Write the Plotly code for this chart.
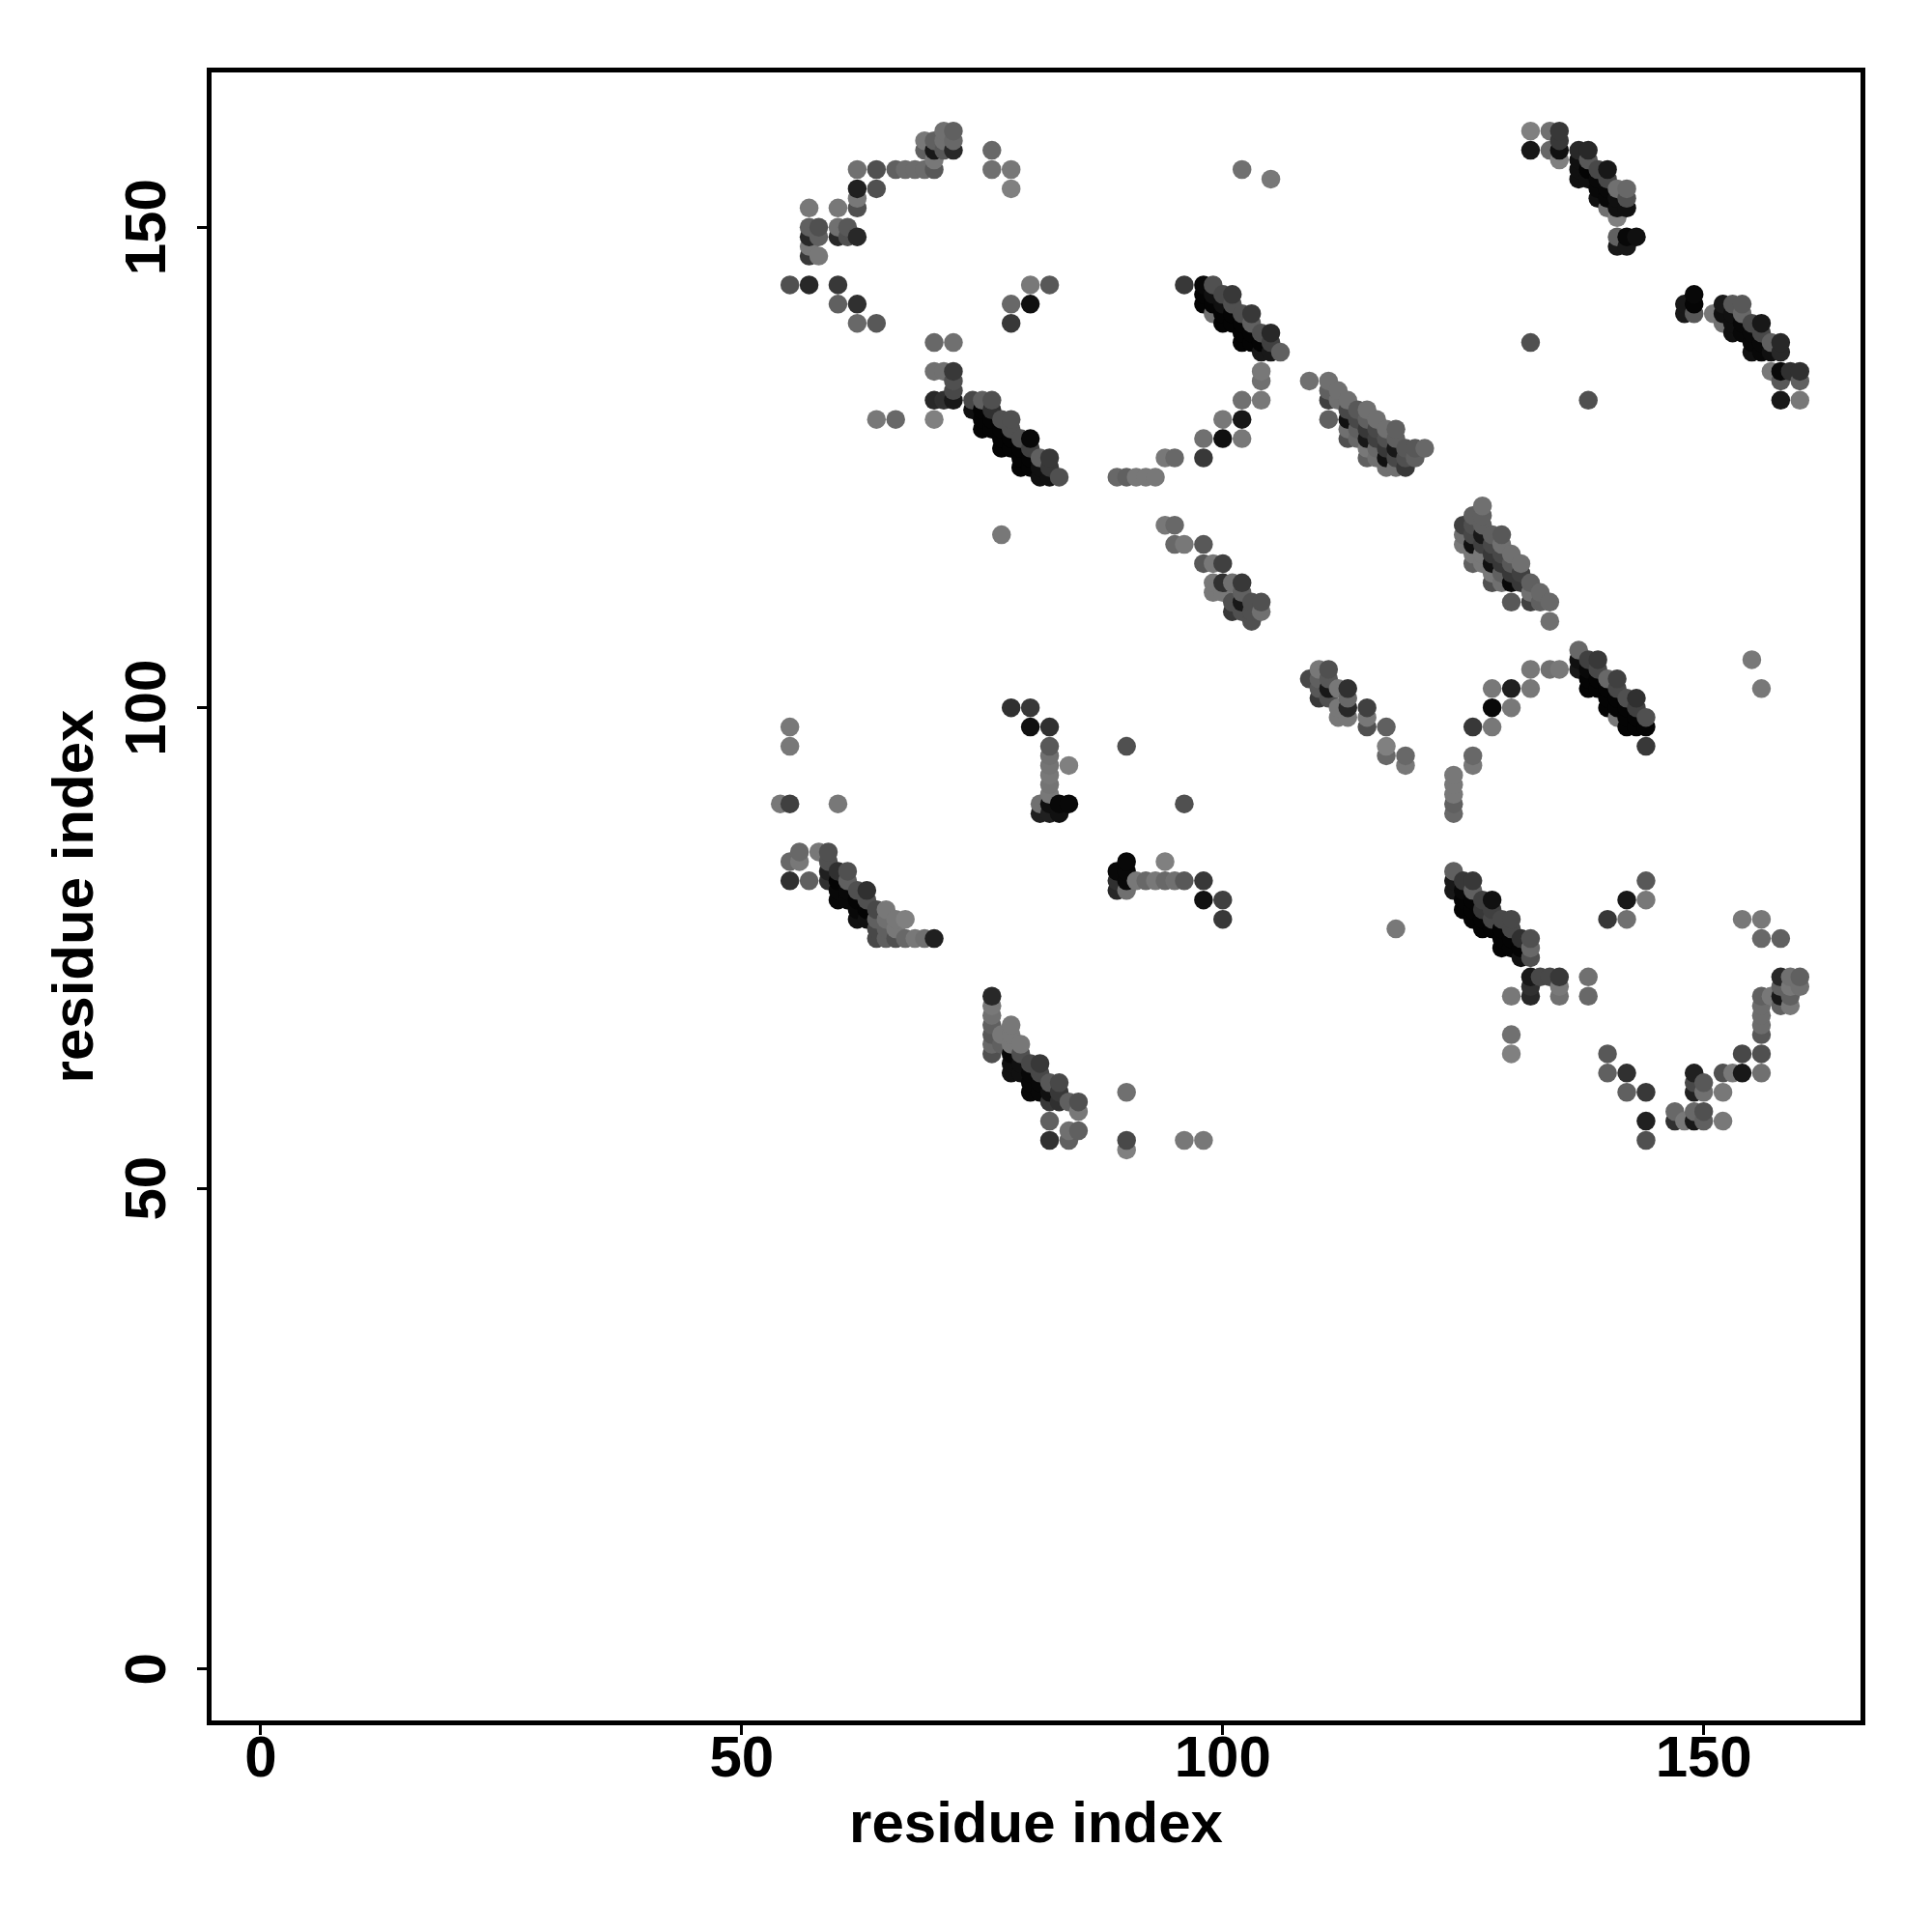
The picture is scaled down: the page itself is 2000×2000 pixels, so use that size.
import plotly.graph_objects as go

# (residue x, residue y, grey level 0-255)
arc_top_left = [
(55,144,80),(57,144,40),(60,144,56),(60,142,96),(62,142,48),(62,140,104),(64,140,88),
(57,152,120),(60,152,120),(62,154,32),(64,154,80),(62,156,112),(64,156,80),(62,153,120),(62,152,80),
(57,150,96),(58,150,80),(57,149,40),(58,149,96),(57,148,120),(57,147,56),(58,147,120),
(60,150,112),(61,150,88),(60,149,40),(61,149,80),(62,149,40),
(66,156,96),(67,156,108),(68,156,108),(69,156,108),(70,156,88),(70,157,120),
(72,160,96),(71,160,112),(72,159,104),(71,159,112),(69,159,120),(70,159,96),
(72,158,40),(69,158,96),(70,158,24),(71,158,88),
(76,158,104),(76,156,112),(78,156,120),(78,154,128),
(80,144,120),(82,144,88),(78,142,104),(80,142,16),(78,140,56),
(70,138,104),(72,138,112),(70,135,112),(71,135,112),(72,135,56),(72,134,80),(72,133,72),
(70,132,40),(71,132,48),(72,132,24),(64,130,120),(66,130,104),(70,130,128),
(77,118,120),
]
diag_b = [
(74,132,72),(75,132,96),(76,132,80),(74,131,16),(75,131,4),(76,131,48),
(75,130,4),(76,130,4),(77,130,80),(78,130,80),(75,129,4),(76,129,4),(77,129,4),(78,129,80),
(77,128,4),(78,128,4),(79,128,80),(80,128,8),(77,127,4),(78,127,4),(79,127,4),(80,127,64),
(79,126,4),(80,126,4),(81,126,96),(82,126,56),(79,125,4),(80,125,4),(81,125,16),(82,125,56),
(81,124,16),(82,124,16),(83,124,80),
]
diag_c = [
(96,144,56),(98,144,8),(99,144,80),(98,143,4),(99,143,16),(100,143,72),(101,143,56),
(98,142,4),(99,142,4),(100,142,16),(101,142,80),(99,141,112),(100,141,4),(101,141,4),(102,141,80),(103,141,56),
(100,140,4),(101,140,4),(102,140,4),(103,140,96),(102,139,4),(103,139,4),(104,139,80),(105,139,40),
(102,138,4),(103,138,4),(104,138,4),(105,138,64),(104,137,24),(105,137,24),(106,137,96),
(104,135,120),(104,134,112),(104,132,120),(102,132,112),(100,130,120),(102,130,24),
(98,128,112),(100,128,16),(102,128,120),(98,126,56),(94,126,120),(95,126,104),
(89,124,104),(90,124,96),(91,124,120),(92,124,120),(93,124,120),
(102,156,112),(105,155,120),
]
diag_d = [
(109,134,112),(111,134,112),(111,133,96),(112,133,112),(111,132,64),(112,132,112),(113,132,112),(111,130,96),
(113,131,72),(114,131,88),(115,131,112),(113,130,16),(114,130,72),(115,130,96),(116,130,112),
(113,129,112),(114,129,96),(115,129,56),(116,129,72),(117,129,112),(118,129,96),
(113,128,80),(114,128,104),(115,128,24),(116,128,64),(117,128,80),(118,128,96),
(115,127,120),(116,127,104),(117,127,56),(118,127,24),(119,127,88),(120,127,88),(121,127,104),
(115,126,96),(116,126,112),(117,126,16),(118,126,72),(119,126,80),(120,126,96),
(117,125,112),(118,125,112),(119,125,56),
]
diag_e = [
(127,121,112),(126,120,96),(127,120,96),(125,119,64),(126,119,80),(127,119,96),
(125,118,112),(126,118,72),(127,118,24),(128,118,96),(129,118,88),
(125,117,120),(126,117,16),(127,117,64),(128,117,72),(129,117,112),
(126,116,120),(127,116,120),(128,116,56),(129,116,72),(130,116,112),
(126,115,96),(127,115,120),(128,115,16),(129,115,56),(130,115,88),(131,115,112),
(128,114,120),(129,114,96),(130,114,56),(131,114,64),
(128,113,80),(129,113,112),(130,113,8),(131,113,56),(132,113,96),
(132,112,112),(133,112,104),(130,111,88),(132,111,64),(133,111,96),(134,111,104),(134,109,112),
]
diag_f = [
(94,119,120),(95,119,104),(95,117,104),(96,117,120),(98,117,88),
(98,115,88),(99,115,120),(100,115,64),(99,113,120),(100,113,48),(101,113,112),(102,113,56),
(99,112,120),(100,112,120),(102,112,96),(101,111,80),(102,111,24),(103,111,80),(104,111,80),
(101,110,56),(102,110,80),(103,110,80),(104,110,112),(103,109,80),
]
diag_g = [
(132,160,128),(134,160,112),(135,160,56),(135,159,56),(135,158,16),(132,158,24),(134,158,104),(135,157,128),
(137,158,40),(138,158,40),(137,157,16),(138,157,88),(137,156,16),(138,156,4),(139,156,72),(140,156,24),
(137,155,16),(138,155,16),(139,155,8),(140,155,72),(139,154,8),(140,154,8),(141,154,112),(142,154,104),
(139,153,16),(140,153,8),(141,153,16),(142,153,80),(140,152,112),(141,152,16),(142,152,16),(141,151,128),
(141,149,96),(142,149,8),(143,149,16),(141,148,24),(142,148,24),
]
diag_h = [
(138,132,80),(149,143,8),(148,142,24),(149,142,5),(148,141,24),(149,141,88),(151,141,120),
(152,142,24),(153,142,88),(154,142,88),(152,141,16),(153,141,16),(154,141,104),
(152,140,112),(153,140,16),(154,140,8),(155,140,72),(156,140,24),
(153,139,16),(154,139,8),(155,139,8),(156,139,72),
(155,138,8),(156,138,8),(157,138,96),(158,138,40),(155,137,16),(156,137,8),(157,137,16),(158,137,40),
(157,135,120),(158,135,8),(159,135,48),(160,135,48),(158,134,88),(160,134,96),(158,132,24),(160,132,120),
(132,138,80),
]
diag_i = [
(109,103,72),(110,104,120),(111,104,80),(110,103,96),(111,103,88),
(110,102,88),(111,102,24),(112,102,120),(113,102,48),(110,101,56),(111,101,80),(113,101,104),
(112,100,120),(113,100,40),(115,100,64),(112,99,120),(113,99,120),(115,99,120),
(115,98,80),(117,98,96),(117,96,128),(117,95,104),(119,95,104),(119,94,120),
(126,95,104),(126,94,120),(124,93,120),(124,92,120),(124,91,120),(124,90,96),(124,89,104),
(126,98,56),(128,98,120),(128,100,8),(130,100,120),(128,102,120),(130,102,32),(132,102,120),
(132,104,120),(134,104,112),(135,104,120),(155,105,120),(156,102,120),
]
diag_j = [
(137,106,104),(137,105,16),(137,104,24),(138,105,64),(139,105,56),(138,104,8),(139,104,72),
(138,103,4),(139,103,4),(140,103,104),(141,103,64),(138,102,4),(139,102,4),(140,102,4),(141,102,72),
(140,101,4),(141,101,4),(142,101,80),(143,101,48),(140,100,4),(141,100,4),(142,100,4),(143,100,64),
(141,99,120),(142,99,4),(143,99,4),(144,99,80),(142,98,4),(143,98,4),(144,98,4),(144,96,56),
]
arc_lower_right = [
(144,82,88),(144,80,120),(142,80,24),(140,78,56),(142,78,112),
(154,78,120),(156,78,120),(156,76,104),(158,76,96),(118,77,120),
(132,72,24),(133,72,72),(134,72,72),(135,72,56),(138,72,112),(132,71,48),(135,71,120),
(130,70,120),(132,70,40),(135,70,112),(138,70,104),(130,66,112),(130,64,128),
(140,64,88),(140,62,96),(142,62,48),(142,60,96),(144,60,56),(144,57,32),(144,55,80),
(147,58,104),(147,57,48),(148,57,120),(149,57,24),(150,57,96),(152,57,120),(149,58,104),(150,58,80),
(149,62,32),(149,61,72),(149,60,32),(150,61,88),(150,60,112),(152,60,120),
(152,62,80),(153,62,120),(154,62,24),(156,62,112),(154,64,72),(156,64,80),
(156,66,88),(156,67,108),(156,68,108),(156,69,108),(156,70,96),(157,70,120),
(158,72,40),(158,71,96),(158,70,24),(158,69,96),(159,72,112),(159,71,120),(159,70,96),(159,69,120),
(160,72,96),(160,71,112),
]
diag_k = [
(124,83,96),(124,82,24),(124,81,24),(125,82,56),(126,82,56),(125,81,8),(126,81,96),
(125,80,4),(126,80,4),(127,80,64),(128,80,16),(125,79,4),(126,79,4),(127,79,56),(128,79,64),
(126,78,4),(127,78,4),(128,78,72),(129,78,72),(130,78,72),(127,77,4),(128,77,4),(129,77,4),(130,77,72),
(129,76,4),(130,76,4),(131,76,48),(132,76,80),(129,75,4),(130,75,4),(131,75,4),(132,75,104),
(131,74,16),(132,74,80),
]
diag_l = [
(55,98,120),(55,96,120),(54,90,120),(55,90,64),(60,90,120),
(56,85,104),(58,85,120),(59,85,80),(55,84,104),(56,84,120),(59,84,80),(55,82,48),(57,82,96),
(59,83,32),(60,83,48),(61,83,80),(59,82,48),(60,82,4),(61,82,96),
(60,81,8),(61,81,8),(62,81,80),(63,81,48),(60,80,8),(61,80,8),(62,80,4),(63,80,80),
(62,79,8),(63,79,4),(64,79,72),(65,79,120),(62,78,16),(63,78,16),(64,78,96),(65,78,112),(66,78,120),(67,78,128),
(64,77,72),(65,77,96),(66,77,120),
(64,76,72),(65,76,96),(66,76,80),(67,76,104),(68,76,120),(69,76,112),(70,76,32),
]
cluster_m = [
(78,100,48),(80,100,56),(80,98,16),(82,98,48),(82,96,88),(82,95,112),(82,94,116),(82,93,120),(82,92,116),(82,91,120),
(84,94,128),(81,90,112),(82,90,16),(83,90,8),(84,90,8),(81,89,32),(82,89,32),(83,89,16),(90,96,80),
(96,90,80),(94,84,128),(90,84,8),(90,83,8),(89,83,8),(89,82,48),(89,81,40),(90,82,8),(90,81,112),
(91,82,120),(92,82,104),(93,82,120),(94,82,104),(95,82,112),(96,82,88),(98,82,56),(98,80,16),(100,80,64),(100,78,56),
]
diag_n = [
(76,70,40),(76,69,120),(76,68,112),(76,67,96),(76,66,88),(76,65,104),(76,64,80),
(77,66,120),(77,65,96),(78,67,120),(78,66,120),(78,65,120),(78,64,8),(78,63,16),(78,62,16),
(79,65,120),(79,64,80),(79,63,16),(79,62,16),(80,63,72),(80,62,8),(80,61,8),(80,60,8),
(81,63,56),(81,62,72),(81,61,8),(81,60,8),(82,61,88),(82,60,16),(82,59,56),
(83,61,72),(83,60,56),(83,59,48),(84,59,96),(85,59,80),(85,58,120),
(82,57,96),(82,55,48),(84,56,112),(84,55,96),(85,56,96),
(90,60,112),(90,55,72),(90,54,128),(96,55,120),(98,55,120),
]

tick_values = [0, 50, 100, 150]
axis_label = "residue index"

contacts = sorted(arc_top_left + diag_b + diag_c + diag_d + diag_e + diag_f + diag_g + diag_h
                  + diag_i + diag_j + arc_lower_right + diag_k + diag_l + cluster_m + diag_n,
                  key=lambda p: (p[0], p[1]))

fig = go.Figure(go.Scatter(
    x=[p[0] for p in contacts],
    y=[p[1] for p in contacts],
    mode="markers",
    marker=dict(size=19.5, color=[f"rgb({p[2]},{p[2]},{p[2]})" for p in contacts], line=dict(width=0)),
    hoverinfo="x+y",
))

font = dict(family="Liberation Sans", size=60, color="black", weight="bold")
axis = dict(
    tickvals=tick_values, showgrid=False, zeroline=False, showline=True, mirror=True,
    linecolor="black", linewidth=5, ticks="outside", ticklen=10, tickwidth=3, tickcolor="black",
    tickfont=font, automargin=False,
)
fig.update_xaxes(range=[-5.12, 166.3], ticklabelstandoff=-29, title=dict(text=axis_label, font=font, standoff=15), **axis)
fig.update_yaxes(range=[-5.35, 166.1], tickangle=-90, ticklabelstandoff=9, ticklabelshift=9, title=dict(text=axis_label, font=font, standoff=3), **axis)
fig.update_layout(
    width=2000, height=2000, showlegend=False,
    paper_bgcolor="white", plot_bgcolor="white",
    margin=dict(l=211, r=82, t=67, b=227),
)
fig.write_html("out.html")
